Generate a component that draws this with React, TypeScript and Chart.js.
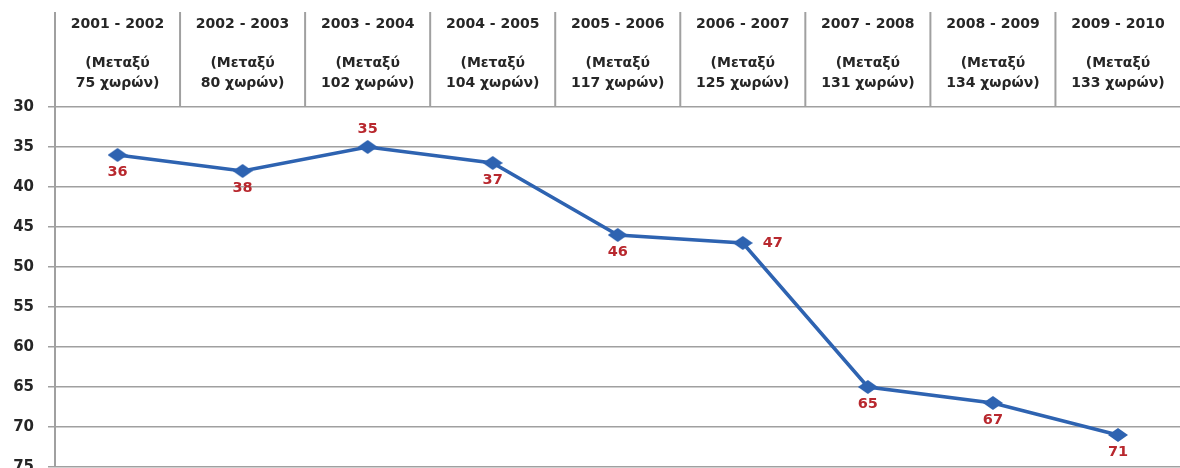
import React, { useEffect, useRef } from "react";
import { Chart, registerables } from "chart.js";

Chart.register(...registerables);

const periods = [
  "2001 - 2002",
  "2002 - 2003",
  "2003 - 2004",
  "2004 - 2005",
  "2005 - 2006",
  "2006 - 2007",
  "2007 - 2008",
  "2008 - 2009",
  "2009 - 2010",
];
const countries = [75, 80, 102, 104, 117, 125, 131, 134, 133];
const ranks = [36, 38, 35, 37, 46, 47, 65, 67, 71];
const labelSides = ["below", "below", "above", "below", "below", "right", "below", "below", "below"];
const yMin = 30;
const yMax = 75;
const yStep = 5;

const FONT = "'DejaVu Sans', sans-serif";
const GRID = "#a0a0a0";
const LINE = "#2E63B1";
const RED = "#B8282E";

function makeDiamond(): HTMLCanvasElement {
  const c = document.createElement("canvas");
  c.width = 20;
  c.height = 14;
  const ctx = c.getContext("2d")!;
  ctx.fillStyle = LINE;
  ctx.beginPath();
  ctx.moveTo(0, 7);
  ctx.lineTo(10, 0);
  ctx.lineTo(20, 7);
  ctx.lineTo(10, 14);
  ctx.closePath();
  ctx.fill();
  return c;
}

const headerSeparators = {
  id: "headerSeparators",
  afterDraw(chart: any) {
    const x = chart.scales.x;
    const area = chart.chartArea;
    const ctx = chart.ctx;
    ctx.save();
    ctx.strokeStyle = GRID;
    ctx.lineWidth = 2;
    for (let i = 0; i < periods.length; i++) {
      const left = i === 0 ? area.left : (x.getPixelForValue(i - 1) + x.getPixelForValue(i)) / 2;
      ctx.beginPath();
      ctx.moveTo(left, x.top - 1);
      ctx.lineTo(left, area.top);
      ctx.stroke();
    }
    ctx.restore();
  },
};

const valueLabels = {
  id: "valueLabels",
  afterDatasetsDraw(chart: any) {
    const meta = chart.getDatasetMeta(0);
    const ctx = chart.ctx;
    ctx.save();
    ctx.font = `bold 14.5px ${FONT}`;
    ctx.fillStyle = RED;
    ctx.textAlign = "center";
    ctx.textBaseline = "middle";
    meta.data.forEach((pt: any, i: number) => {
      let px = pt.x;
      let py = pt.y;
      const side = labelSides[i];
      if (side === "below") py += 17;
      else if (side === "above") py -= 18;
      else if (side === "right") px += 30;
      ctx.fillText(String(ranks[i]), px, py);
    });
    ctx.restore();
  },
};

export default function App() {
  const ref = useRef<HTMLCanvasElement>(null);

  useEffect(() => {
    if (!ref.current) return;
    const diamond = makeDiamond();
    const chart = new Chart(ref.current, {
      type: "line",
      data: {
        labels: periods.map((p, i) => [p, "", "(Μεταξύ", `${countries[i]} χωρών)`]),
        datasets: [
          {
            data: ranks,
            borderColor: LINE,
            borderWidth: 3.5,
            pointStyle: diamond as any,
            pointRadius: 8,
            tension: 0,
          },
        ],
      },
      options: {
        animation: false,
        responsive: false,
        devicePixelRatio: 1,
        layout: { padding: { top: 13, right: 2, left: 0, bottom: 0 } },
        plugins: { legend: { display: false }, tooltip: { enabled: false } },
        scales: {
          x: {
            type: "category",
            position: "top",
            offset: true,
            grid: { display: false },
            border: { display: false },
            ticks: {
              autoSkip: false,
              maxRotation: 0,
              padding: 6,
              color: "#262626",
              font: { family: FONT, size: 14, weight: "bold", lineHeight: "19.5px" },
            },
            afterFit: (s: any) => {
              s.height = 94;
            },
          },
          y: {
            reverse: true,
            min: yMin,
            max: yMax,
            ticks: {
              stepSize: yStep,
              padding: 14,
              color: "#262626",
              font: { family: FONT, size: 15, weight: "bold" },
            },
            grid: { color: GRID, lineWidth: 1.5, tickLength: 7 },
            border: { display: true, color: GRID, width: 2 },
            afterFit: (s: any) => {
              s.width = 55;
            },
          },
        },
      },
      plugins: [headerSeparators, valueLabels],
    });
    return () => chart.destroy();
  }, []);

  return (
    <div
      style={{
        position: "fixed",
        left: 0,
        top: 0,
        width: 1180,
        height: 468,
        overflow: "hidden",
        background: "#fff",
      }}
    >
      <canvas ref={ref} width={1192} height={490} style={{ width: 1192, height: 490, display: "block" }} />
    </div>
  );
}
